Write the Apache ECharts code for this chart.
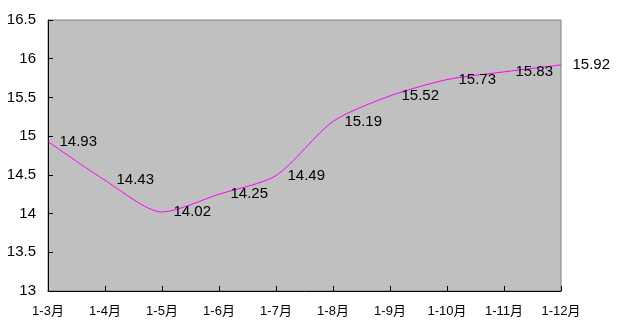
<!DOCTYPE html>
<html>
<head>
<meta charset="utf-8">
<script src="https://cdn.jsdelivr.net/npm/echarts@6/dist/echarts.min.js"></script>
<style>html,body{margin:0;padding:0;background:#fff}#c{width:620px;height:330px}</style>
</head>
<body>
<div id="c"></div>
<script>
var categories = ['1-3月','1-4月','1-5月','1-6月','1-7月','1-8月','1-9月','1-10月','1-11月','1-12月'];
var values = [14.93, 14.43, 14.02, 14.25, 14.49, 15.19, 15.52, 15.73, 15.83, 15.92];
var yMin = 13, yMax = 16.5, yStep = 0.5;
var FONT = 'Liberation Sans, Arial, Noto Sans CJK SC, sans-serif';
var chart = echarts.init(document.getElementById('c'));
chart.setOption({
  animation: false,
  grid: {left: 48, top: 20, right: 59, bottom: 39, show: true, backgroundColor: '#C0C0C0', borderColor: '#808080', borderWidth: 1},
  xAxis: {
    type: 'category', data: categories, boundaryGap: false,
    axisLine: {lineStyle: {color: '#000', width: 1}},
    axisTick: {inside: true, length: 5, lineStyle: {color: '#000'}},
    axisLabel: {color: '#000', fontSize: 13, fontFamily: FONT, margin: 14, interval: 0},
    splitLine: {show: false}
  },
  yAxis: {
    type: 'value', min: yMin, max: yMax, interval: yStep,
    axisLine: {show: true, lineStyle: {color: '#000', width: 1}},
    axisTick: {show: true, inside: true, length: 5, lineStyle: {color: '#000'}},
    axisLabel: {color: '#000', fontSize: 15, fontFamily: FONT, margin: 12},
    splitLine: {show: false}
  },
  series: [{
    type: 'line', data: values, smooth: 0.25, showSymbol: true, symbol: 'circle', symbolSize: 1,
    itemStyle: {color: 'rgba(0,0,0,0)', borderWidth: 0},
    lineStyle: {color: '#FF00FF', width: 1},
    label: {show: true, position: 'right', distance: 11, color: '#000', fontSize: 15, fontFamily: FONT},
    labelLayout: {hideOverlap: false},
    clip: false
  }]
});
</script>
</body>
</html>
